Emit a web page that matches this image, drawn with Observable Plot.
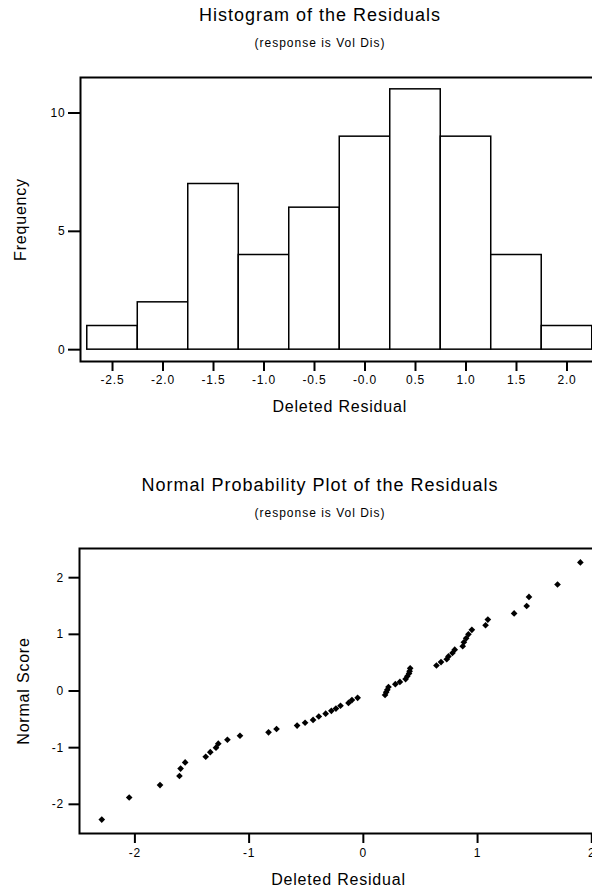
<!DOCTYPE html>
<html><head><meta charset="utf-8">
<script src="https://cdn.jsdelivr.net/npm/d3@7"></script>
<script src="https://cdn.jsdelivr.net/npm/@observablehq/plot@0.6"></script>
<style>
html,body{margin:0;padding:0;background:#fff;overflow:hidden;}
#page{position:relative;width:592px;height:888px;overflow:hidden;font-family:"Liberation Sans",Arial,sans-serif;color:#000;background:#fff;}
.title{position:absolute;left:0;width:640px;text-align:center;font-size:18px;line-height:18px;letter-spacing:1px;white-space:nowrap;}
.sub{position:absolute;left:0;width:640px;text-align:center;font-size:12px;line-height:12px;letter-spacing:1px;white-space:nowrap;}
.chart{position:absolute;left:0;width:610px;}
</style></head>
<body><div id="page">
<div class="title" style="top:6px">Histogram of the Residuals</div>
<div class="sub" style="top:37px">(response is Vol Dis)</div>
<div class="chart" id="hist" style="top:60px"></div>
<div class="title" style="top:476px">Normal Probability Plot of the Residuals</div>
<div class="sub" style="top:507px">(response is Vol Dis)</div>
<div class="chart" id="npp" style="top:530px"></div>
</div>
<script>
// Histogram data
const binLower = [-2.75, -2.25, -1.75, -1.25, -0.75, -0.25, 0.25, 0.75, 1.25, 1.75];
const binUpper = [-2.25, -1.75, -1.25, -0.75, -0.25, 0.25, 0.75, 1.25, 1.75, 2.25];
const binCounts = [1, 2, 7, 4, 6, 9, 11, 9, 4, 1];
const histXTicks = [-2.5, -2.0, -1.5, -1.0, -0.5, 0, 0.5, 1.0, 1.5, 2.0];
const histXTickLabels = ["-2.5", "-2.0", "-1.5", "-1.0", "-0.5", "-0.0", "0.5", "1.0", "1.5", "2.0"];
const histYTicks = [0, 5, 10];

// Normal probability plot data
const deletedResiduals = [-2.29, -2.05, -1.78, -1.61, -1.60, -1.56, -1.38, -1.34, -1.29, -1.27,
  -1.19, -1.08, -0.83, -0.76, -0.58, -0.51, -0.44, -0.39, -0.33, -0.28,
  -0.24, -0.20, -0.13, -0.10, -0.05, 0.19, 0.20, 0.21, 0.22, 0.28,
  0.32, 0.37, 0.385, 0.40, 0.405, 0.41, 0.64, 0.68, 0.73, 0.745,
  0.78, 0.80, 0.87, 0.88, 0.90, 0.92, 0.95, 1.07, 1.09, 1.32,
  1.43, 1.45, 1.70, 1.90];
const normalScores = [-2.27, -1.88, -1.66, -1.50, -1.37, -1.26, -1.16, -1.08, -1.00, -0.93,
  -0.86, -0.79, -0.73, -0.67, -0.61, -0.56, -0.51, -0.45, -0.40, -0.35,
  -0.31, -0.26, -0.21, -0.16, -0.12, -0.07, -0.02, 0.02, 0.07, 0.12,
  0.16, 0.21, 0.26, 0.31, 0.35, 0.40, 0.45, 0.51, 0.56, 0.61,
  0.67, 0.73, 0.79, 0.86, 0.93, 1.00, 1.08, 1.16, 1.26, 1.37,
  1.50, 1.66, 1.88, 2.27];
const nppXTicks = [-2, -1, 0, 1, 2];
const nppXTickLabels = ["-2", "-1", "0", "1", "2"];
const nppYTicks = [-2, -1, 0, 1, 2];
const nppYTickLabels = ["-2", "-1", "0", "1", "2"];

const FONT = '"Liberation Sans", Arial, sans-serif';
const baseStyle = {fontFamily: FONT, fontSize: "12px", letterSpacing: "0.8px", color: "#000", background: "transparent", maxWidth: "none", overflow: "visible"};

const bins = binCounts.map((c, i) => ({lo: binLower[i], hi: binUpper[i], count: c}));

const hist = Plot.plot({
  width: 610, height: 361,
  marginLeft: 80, marginRight: 11.5, marginTop: 17, marginBottom: 60,
  style: baseStyle,
  x: {domain: [-2.817, 2.317]},
  y: {domain: [-0.5, 11.5]},
  marks: [
    Plot.rect(bins, {x1: "lo", x2: "hi", y1: 0, y2: "count", fill: "white", stroke: "black", strokeWidth: 1.5, inset: 0}),
    Plot.frame({stroke: "black", strokeWidth: 2}),
    Plot.axisX({ticks: histXTicks, tickFormat: d => histXTickLabels[histXTicks.indexOf(d)], tickSize: 10, tickPadding: 4, strokeWidth: 2, label: null, fontSize: 12}),
    Plot.axisX({ticks: [], label: "Deleted Residual", labelAnchor: "center", labelOffset: 50, labelArrow: false, fontSize: 16}),
    Plot.axisY({ticks: histYTicks, tickFormat: d => String(d), tickSize: 12, tickPadding: 3, strokeWidth: 2, label: null, fontSize: 12}),
    Plot.axisY({ticks: [], label: "Frequency", labelAnchor: "center", labelOffset: 66, labelArrow: false, fontSize: 16})
  ]
});
document.getElementById("hist").append(hist);

const points = deletedResiduals.map((r, i) => ({r, z: normalScores[i]}));

const npp = Plot.plot({
  width: 610, height: 358,
  marginLeft: 79, marginRight: 13, marginTop: 18, marginBottom: 55,
  style: baseStyle,
  x: {domain: [-2.485, 2.05]},
  y: {domain: [-2.515, 2.515]},
  marks: [
    Plot.frame({stroke: "black", strokeWidth: 2}),
    Plot.dot(points, {x: "r", y: "z", symbol: "diamond2", r: 3, fill: "black", stroke: "none"}),
    Plot.axisX({ticks: nppXTicks, tickFormat: d => nppXTickLabels[nppXTicks.indexOf(d)], tickSize: 10, tickPadding: 5, strokeWidth: 2, label: null, fontSize: 12}),
    Plot.axisX({ticks: [], label: "Deleted Residual", labelAnchor: "center", labelOffset: 51, labelArrow: false, fontSize: 16}),
    Plot.axisY({ticks: nppYTicks, tickFormat: d => nppYTickLabels[nppYTicks.indexOf(d)], tickSize: 10.5, tickPadding: 5, strokeWidth: 2, label: null, fontSize: 12}),
    Plot.axisY({ticks: [], label: "Normal Score", labelAnchor: "center", labelOffset: 62, labelArrow: false, fontSize: 16})
  ]
});
document.getElementById("npp").append(npp);
</script>
</body></html>
